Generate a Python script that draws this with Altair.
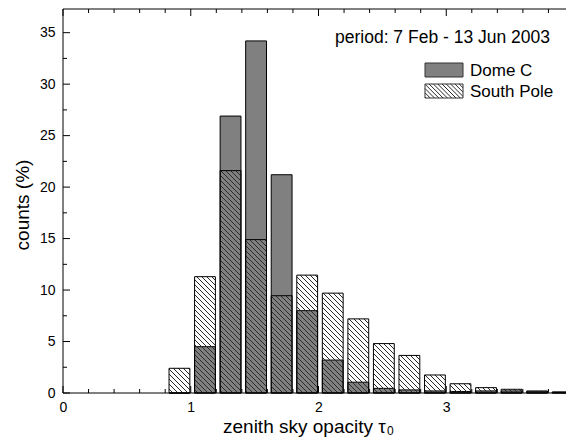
import altair as alt
import pandas as pd
import numpy as np

# ---- data ----
bin_starts = [0.8, 1.0, 1.2, 1.4, 1.6, 1.8, 2.0, 2.2, 2.4, 2.6, 2.8, 3.0, 3.2, 3.4, 3.6, 3.8]
dome_c = [0.0, 4.5, 26.9, 34.2, 21.2, 8.0, 3.2, 1.05, 0.45, 0.3, 0.2, 0.15, 0.2, 0.2, 0.12, 0.08]
south_pole = [2.4, 11.3, 21.6, 14.9, 9.45, 11.45, 9.7, 7.2, 4.8, 3.65, 1.75, 0.9, 0.52, 0.36, 0.2, 0.1]
series_names = ["Dome C", "South Pole"]
x_label_values = [0, 1, 2, 3, 4]
y_label_values = [0, 5, 10, 15, 20, 25, 30, 35]
period_label = "period: 7 Feb - 13 Jun 2003"
x_title = "zenith sky opacity τ"
x_title_sub = "0"
y_title = "counts (%)"

FONT = "Liberation Sans"
PX_PER_X = 127.75          # pixel length of one x unit in the reference
W, H = 503, 384            # visible plot area (the reference frame runs past the right edge)
XFULL = 4.0
WFULL = XFULL * PX_PER_X
XMAX, YMAX = W / PX_PER_X, 37.3
sx, sy = PX_PER_X, H / YMAX
BAR_L, BAR_R = 0.03, 0.193
GRAY = "#808080"
HATCH = "#2a2a2a"

xs = alt.Scale(domain=[0, XMAX], nice=False, zero=False)
ys = alt.Scale(domain=[0, YMAX], nice=False)

bars = pd.DataFrame({
    "x0": [s + BAR_L for s in bin_starts],
    "x1": [s + BAR_R for s in bin_starts],
    "dc": dome_c,
    "sp": south_pole,
    "base": [0.0] * len(bin_starts),
})


def hatch(x0p, x1p, y0p, y1p, step):
    """diagonal '\\' lines (pixel space, y upward) clipped to a box, returned in data units"""
    rows = []
    k0 = int(np.floor((x0p + y0p) / step))
    k1 = int(np.ceil((x1p + y1p) / step))
    for k in range(k0, k1 + 1):
        c = k * step
        lo = max(x0p, c - y1p)
        hi = min(x1p, c - y0p)
        if hi - lo > 0.3:
            rows.append({"hx": lo / sx, "hy": (c - lo) / sy, "hx2": hi / sx, "hy2": (c - hi) / sy})
    return rows


hrows = []
for r in bars.itertuples():
    if r.sp > 0:
        hrows += hatch(r.x0 * sx, r.x1 * sx, 0.0, r.sp * sy, 5.0)
hatch_df = pd.DataFrame(hrows)

# legend geometry (chart pixel coordinates, y downward)
LX0, LX1 = 362, 400
DC_Y0, DC_Y1 = 54, 68
SP_Y0, SP_Y1 = 75, 89
leg_hatch = pd.DataFrame(hatch(LX0, LX1, H - SP_Y1, H - SP_Y0, 4.3))

one = pd.DataFrame({"a": [0]})

dc_bars = alt.Chart(bars).mark_rect(fill=GRAY, stroke="black", strokeWidth=1).encode(
    x=alt.X("x0:Q", scale=xs, axis=alt.Axis(values=x_label_values, format="d", ticks=False, tickSize=0,
                                              domain=False, grid=False, labelFontSize=14, labelFont=FONT,
                                              labelColor="black", labelPadding=7, labelFlush=False,
                                              labelBound=False, title=None)),
    x2="x1:Q",
    y=alt.Y("dc:Q", scale=ys, axis=alt.Axis(values=y_label_values, ticks=False, tickSize=0, domain=False,
                                            grid=False, labelFontSize=14, labelFont=FONT, labelColor="black",
                                            labelPadding=8, title=None)),
    y2="base:Q",
)

hatch_lines = alt.Chart(hatch_df).mark_rule(stroke=HATCH, strokeWidth=1).encode(
    x=alt.X("hx:Q", scale=xs), y=alt.Y("hy:Q", scale=ys), x2="hx2:Q", y2="hy2:Q"
)

sp_bars = alt.Chart(bars).mark_rect(fillOpacity=0, stroke="black", strokeWidth=1).encode(
    x=alt.X("x0:Q", scale=xs), x2="x1:Q", y=alt.Y("sp:Q", scale=ys), y2="base:Q"
)

# legend
leg_dc = alt.Chart(one).mark_rect(fill=GRAY, stroke="#333333", strokeWidth=1).encode(
    x=alt.value(LX0), x2=alt.value(LX1), y=alt.value(DC_Y0), y2=alt.value(DC_Y1)
)
leg_sp_h = alt.Chart(leg_hatch).mark_rule(stroke=HATCH, strokeWidth=1).encode(
    x=alt.X("hx:Q", scale=xs), y=alt.Y("hy:Q", scale=ys), x2="hx2:Q", y2="hy2:Q"
)
leg_sp = alt.Chart(one).mark_rect(fillOpacity=0, stroke="#333333", strokeWidth=1).encode(
    x=alt.value(LX0), x2=alt.value(LX1), y=alt.value(SP_Y0), y2=alt.value(SP_Y1)
)
leg_t1 = alt.Chart(one).mark_text(text=series_names[0], font=FONT, fontSize=17, align="left",
                                  baseline="middle", color="black").encode(
    x=alt.value(407), y=alt.value((DC_Y0 + DC_Y1) / 2 + 1))
leg_t2 = alt.Chart(one).mark_text(text=series_names[1], font=FONT, fontSize=17, align="left",
                                  baseline="middle", color="black").encode(
    x=alt.value(407), y=alt.value((SP_Y0 + SP_Y1) / 2 + 1))
period = alt.Chart(one).mark_text(text=period_label, font=FONT, fontSize=17.5, align="left",
                                  baseline="middle", color="black").encode(
    x=alt.value(272), y=alt.value(29))

# axis titles
xt = alt.Chart(one).mark_text(text=x_title, font=FONT, fontSize=19, align="left",
                              baseline="alphabetic", color="black").encode(
    x=alt.value(160), y=alt.value(424))
xt_sub = alt.Chart(one).mark_text(text=x_title_sub, font=FONT, fontSize=12, align="left",
                                  baseline="alphabetic", color="black").encode(
    x=alt.value(324), y=alt.value(426))
yt = alt.Chart(one).mark_text(text=y_title, font=FONT, fontSize=19, align="center",
                              baseline="middle", angle=270, color="black").encode(
    x=alt.value(-40), y=alt.value(196))

# frame (left, top, bottom; the right side lies beyond the picture)
frame = [
    alt.Chart(one).mark_rule(stroke="black", strokeWidth=1).encode(
        x=alt.value(0), y=alt.value(0), y2=alt.value(H)),
    alt.Chart(one).mark_rule(stroke="black", strokeWidth=1).encode(
        x=alt.value(0), x2=alt.value(WFULL), y=alt.value(0)),
    alt.Chart(one).mark_rule(stroke="black", strokeWidth=1).encode(
        x=alt.value(0), x2=alt.value(WFULL), y=alt.value(H)),
]

# inward ticks on all four sides
x_minor = pd.DataFrame({"v": [round(0.2 * i, 1) for i in range(21) if i % 5 != 0]})
x_major = pd.DataFrame({"v": [float(v) for v in x_label_values]})
y_minor = pd.DataFrame({"v": [2.5 + 5 * i for i in range(7)]})
y_major = pd.DataFrame({"v": [float(v) for v in y_label_values]})


def xticks(df, ln):
    b = alt.Chart(df).mark_rule(stroke="black", strokeWidth=1).encode(
        x=alt.X("v:Q", scale=xs), y=alt.value(H), y2=alt.value(H - ln))
    t = alt.Chart(df).mark_rule(stroke="black", strokeWidth=1).encode(
        x=alt.X("v:Q", scale=xs), y=alt.value(0), y2=alt.value(ln))
    return [b, t]


def yticks(df, ln):
    l = alt.Chart(df).mark_rule(stroke="black", strokeWidth=1).encode(
        y=alt.Y("v:Q", scale=ys), x=alt.value(0), x2=alt.value(ln))
    r = alt.Chart(df).mark_rule(stroke="black", strokeWidth=1).encode(
        y=alt.Y("v:Q", scale=ys), x=alt.value(WFULL), x2=alt.value(WFULL - ln))
    return [l, r]


tick_layers = xticks(x_major, 7) + xticks(x_minor, 4) + yticks(y_major, 7) + yticks(y_minor, 4)

chart = alt.layer(
    dc_bars, hatch_lines, sp_bars,
    leg_dc, leg_sp_h, leg_sp, leg_t1, leg_t2, period,
    xt, xt_sub, yt,
    *frame,
    *tick_layers
).properties(
    width=W, height=H,
    autosize=alt.AutoSizeParams(type="none"),
    padding={"left": 55, "top": 1, "right": 0, "bottom": 45},
).configure_view(stroke="transparent")

chart.save("out.html", embed_options={"renderer": "svg", "actions": False})
